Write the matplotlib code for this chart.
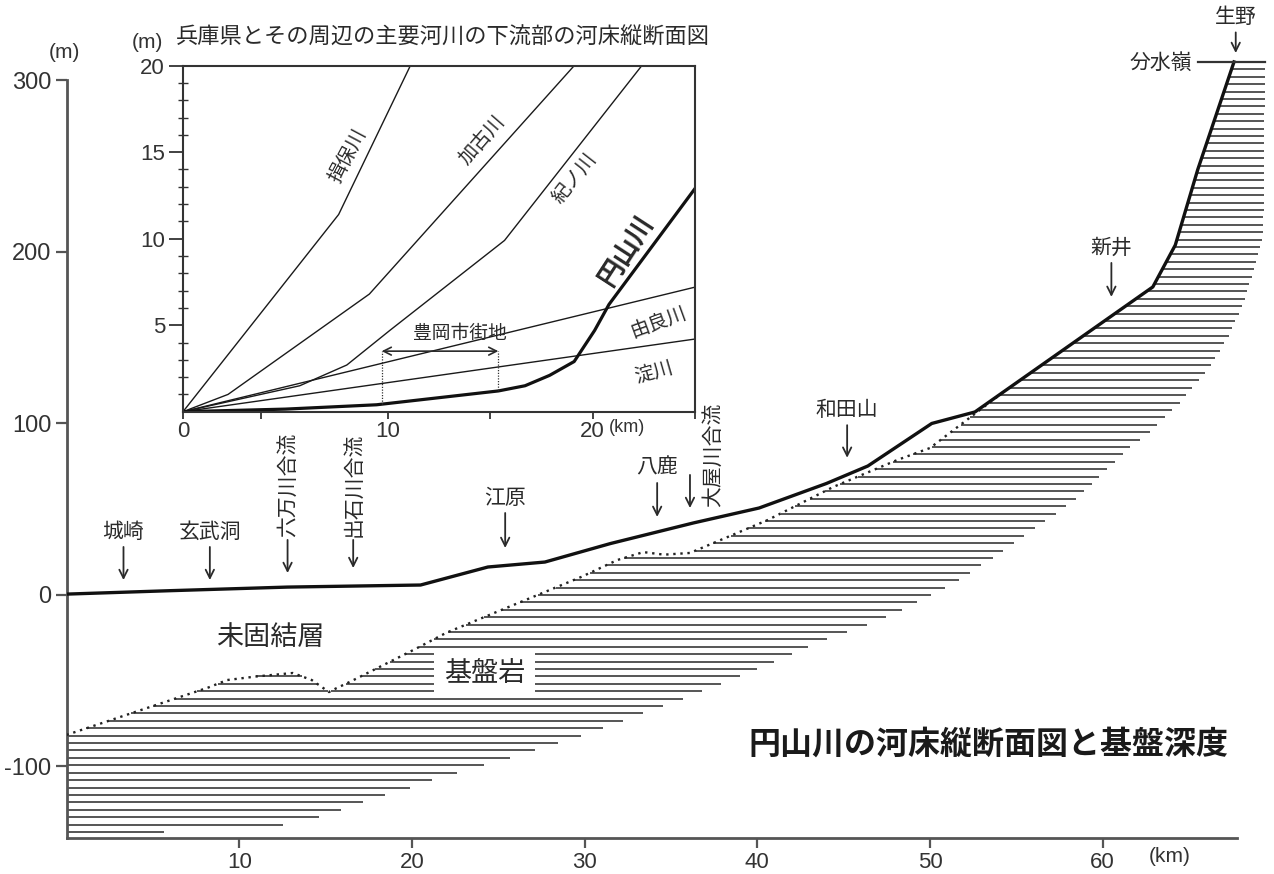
import numpy as np
import matplotlib
matplotlib.use("Agg")
import matplotlib.pyplot as plt
from matplotlib.collections import LineCollection

plt.rcParams['font.family'] = ['Liberation Sans', 'Noto Sans CJK JP', 'DejaVu Sans']
plt.rcParams['axes.unicode_minus'] = False
JP = ['Noto Sans CJK JP', 'DejaVu Sans']
INK = '#2a2a2a'

# ---------------- Maruyama River: bed profile (km from mouth, elevation m) ----------------
bed_km = [0, 6, 12.8, 20.5, 24.4, 27.7, 31.5, 36.3, 40.1, 44.0, 46.4, 50.1, 52.6, 62.9, 64.2, 65.5, 67.6]
bed_m = [0.5, 2.5, 4.6, 5.8, 16.3, 19.2, 30, 42, 50.7, 65, 75.2, 100, 106.7, 179.6, 204, 248, 310.8]

# top of bedrock (basement) below the unconsolidated layer
base_km = [0, 8.2, 9.3, 11.0, 13.1, 14.2, 15.2, 15.6, 16.4, 20.1, 22.0, 29.8, 31.9, 33.4,
           34.6, 36.1, 40.6, 44.4, 48.1, 50.0, 54.4]
base_m = [-81.6, -54, -49.6, -47.5, -45.5, -49.6, -56.6, -54.5, -50.7, -32, -22, 10.5, 20.4, 25,
          23.5, 24.5, 43.7, 63, 78.7, 85.7, 119.5]

# outer limit of the bedrock section (elevation m -> km)
edge_m = [-138.2, -133.5, -129.4, -124.8, -120.1, -115.5, -111.4, -106.7, -93.3, -78.7, -61.2,
          -45.5, -37.3, -33.2, -28.0, -24.5, -19.2, -14.6, -4.7, 8.7, 22.7, 55.4, 86.3, 94.5,
          113.7, 133, 152.8, 172, 191, 211, 310.8]
edge_km = [5.6, 13.1, 14.7, 16.0, 17.4, 18.8, 20.2, 21.5, 26.3, 30.8, 35.5, 39.5, 41.3, 42.4,
           43.3, 44.5, 45.8, 47.1, 49.2, 51.7, 53.8, 58.4, 61.6, 62.7, 64.6, 66.2, 67.4, 68.2,
           68.8, 69.3, 69.4]

# places along the river: name, km, arrow start (m), arrow end (m)
place_names = ['城崎', '玄武洞', '江原', '八鹿', '和田山', '新井', '生野']
place_km = [3.3, 8.3, 25.4, 34.2, 45.2, 60.5, 67.7]
place_top = [28, 28, 47.8, 65.3, 99, 193.6, 328]
place_bot = [8.7, 8.7, 27.4, 45.5, 80, 173.8, 316]

# tributary confluences: name, arrow km, arrow start, arrow end, label km
conf_names = ['六万川合流', '出石川合流', '大屋川合流']
conf_km = [12.8, 16.6, 36.1]
conf_top = [32.1, 32.1, 70]
conf_bot = [12.8, 15.7, 50.7]
conf_label_km = [12.8, 16.6, 37.4]
conf_label_m = [33.6, 33.6, 51.3]

main_xticks = [10, 20, 30, 40, 50, 60]
main_yticks = [-100, 0, 100, 200, 300]

# ---------------- lower reaches of major rivers (inset) ----------------
ibo_km, ibo_m = [0, 7.6, 11.1], [0, 11.4, 20]
kako_km, kako_m = [0, 2.2, 9.1, 19.1], [0, 1.0, 6.8, 20]
kino_km, kino_m = [0, 5.7, 8.0, 10.1, 15.7, 22.4], [0, 1.5, 2.7, 4.7, 9.9, 20]
yura_km, yura_m = [0, 25], [0, 7.2]
yodo_km, yodo_m = [0, 25], [0, 4.2]
maru_km = [0, 5, 9.45, 15.4, 16.7, 17.9, 19.1, 20.1, 20.8, 25]
maru_m = [0, 0.15, 0.4, 1.2, 1.5, 2.1, 2.9, 4.7, 6.2, 12.9]
toyooka_km = [9.7, 15.4]
toyooka_m = 3.5
toyooka_bed = [0.42, 1.25]

W, H = 1274, 874
fig = plt.figure(figsize=(W / 100, H / 100), dpi=100)


def fx(px):
    return px / W


def fy(py):
    return 1 - py / H


# ================= main profile =================
ax = fig.add_axes([fx(66.5), fy(838), fx(1272) - fx(66.5), fy(0) - fy(838)])
ax.set_xlim(0, 69.8)
ax.set_ylim(-141.7, 346.9)
for s in ['top', 'right']:
    ax.spines[s].set_visible(False)
for s in ['left', 'bottom']:
    ax.spines[s].set_color('#555555')
    ax.spines[s].set_linewidth(2.0)
ax.spines['left'].set_bounds(-141.7, 300)
ax.spines['bottom'].set_bounds(0, 67.75)
ax.set_xticks(main_xticks)
ax.set_yticks(main_yticks)
ax.tick_params(axis='both', direction='out', color='#555555', width=1.6, labelcolor='#333333')
ax.tick_params(axis='y', length=8, pad=3, labelsize=17)
ax.tick_params(axis='x', length=7, pad=3, labelsize=16)

# horizontal line shading of the bedrock
cut_from = base_km[-1]
up_km = base_km + [k for k in bed_km if k > cut_from] + [69.8]
up_m = base_m + [m for k, m in zip(bed_km, bed_m) if k > cut_from] + [bed_m[-1]]
xs = np.linspace(0, 69.8, 8000)
upper = np.interp(xs, up_km, up_m)
levels = bed_m[-1] - 4.317 * np.arange(1, 105)
segs = []
for lv in levels:
    right = np.interp(lv, edge_m, edge_km)
    mask = (upper > lv) & (xs <= right)
    d = np.diff(np.concatenate([[0], mask.astype(int), [0]]))
    starts = np.where(d == 1)[0]
    ends = np.where(d == -1)[0] - 1
    for s, e in zip(starts, ends):
        if xs[e] - xs[s] > 0.05:
            segs.append([(xs[s], lv), (xs[e], lv)])
ax.add_collection(LineCollection(segs, colors='#555555', linewidths=1.4,
                                 capstyle='butt', clip_on=False, zorder=1))

# basement surface and river bed
ax.plot(base_km, base_m, color='#222222', lw=1.7, ls=(0, (1, 2.0)), zorder=3)
ax.plot(bed_km, bed_m, color='#111111', lw=2.4, solid_joinstyle='round', zorder=4)
ax.plot([65.5, 69.4], [bed_m[-1], bed_m[-1]], color='#333333', lw=1.6, zorder=4, clip_on=False)
ax.text(65.2, 310.2, '分水嶺', ha='right', va='center', fontsize=15, family=JP, color=INK)

arrow_kw = dict(arrowstyle='->', lw=1.3, color=INK, shrinkA=0, shrinkB=0, mutation_scale=15)
for name, k, t, b in zip(place_names, place_km, place_top, place_bot):
    ax.annotate('', xy=(k, b), xytext=(k, t), arrowprops=arrow_kw)
    ax.text(k, t + 2.5, name, ha='center', va='bottom', fontsize=15, family=JP, color=INK)

for name, k, t, b, lk, lm in zip(conf_names, conf_km, conf_top, conf_bot, conf_label_km, conf_label_m):
    ax.annotate('', xy=(k, b), xytext=(k, t), arrowprops=arrow_kw)
    ax.text(lk, lm, name, ha='center', va='bottom', rotation=90, fontsize=15,
            family=JP, color=INK)

ax.text(11.8, -25, '未固結層', ha='center', va='center', fontsize=19.5, family=JP, color=INK)
ax.text(24.2, -45.5, '基盤岩', ha='center', va='center', fontsize=19.5, family=JP, color=INK,
        bbox=dict(boxstyle='square,pad=0.35', fc='white', ec='none'), zorder=5)
ax.text(53.4, -87.5, '円山川の河床縦断面図と基盤深度', ha='center', va='center',
        fontsize=23, weight='bold', family=JP, color='#1a1a1a')

fig.text(fx(64), fy(53), '(m)', ha='center', va='center', fontsize=15, color='#333333')
fig.text(fx(1170), fy(856), '(km)', ha='center', va='center', fontsize=15, color='#333333')

# ================= inset: lower reaches of major rivers =================
ins = fig.add_axes([fx(183), fy(411.7), fx(695) - fx(183), fy(65.7) - fy(411.7)])
ins.set_xlim(0, 25)
ins.set_ylim(0, 20)
for s in ins.spines.values():
    s.set_color('#333333')
    s.set_linewidth(1.5)
ins.set_xticks([0, 3.8, 10, 15, 20, 25])
ins.set_xticklabels(['0', '', '10', '', '20', ''])
ins.set_yticks([5, 10, 15, 20])
ins.set_yticks(np.arange(1, 20), minor=True)
ins.tick_params(axis='x', direction='out', length=5, width=1.3, pad=2, labelsize=16,
                color='#333333', labelcolor='#333333')
ins.tick_params(axis='y', which='major', direction='out', length=10, width=1.3, pad=3,
                labelsize=16, color='#333333', labelcolor='#333333')
ins.tick_params(axis='y', which='minor', direction='inout', length=7, width=1.0, color='#333333')

thin = dict(color='#1a1a1a', lw=1.0)
ins.plot(ibo_km, ibo_m, **thin)
ins.plot(kako_km, kako_m, **thin)
ins.plot(kino_km, kino_m, **thin)
ins.plot(yura_km, yura_m, **thin)
ins.plot(yodo_km, yodo_m, **thin)
ins.plot(maru_km, maru_m, color='#111111', lw=2.3)

for k, b in zip(toyooka_km, toyooka_bed):
    ins.plot([k, k], [b, toyooka_m], color='#333333', lw=0.9, ls=(0, (1, 1.2)))
ins.annotate('', xy=(toyooka_km[0], toyooka_m), xytext=(toyooka_km[1], toyooka_m),
             arrowprops=dict(arrowstyle='<->', lw=1.2, color=INK, shrinkA=0, shrinkB=0,
                             mutation_scale=14))
ins.text(13.5, 4.5, '豊岡市街地', ha='center', va='center', fontsize=13.5, family=JP, color=INK)

lab = dict(ha='center', va='center', rotation_mode='anchor', family=JP, color=INK)
ins.text(8.0, 14.8, '揖保川', rotation=62, fontsize=14, **lab)
ins.text(14.6, 15.7, '加古川', rotation=49, fontsize=14, **lab)
ins.text(19.1, 13.5, '紀ノ川', rotation=52, fontsize=14, **lab)
ins.text(21.7, 9.3, '円山川', rotation=57, fontsize=19, weight='bold', **lab)
ins.text(23.2, 5.2, '由良川', rotation=20, fontsize=14, **lab)
ins.text(23.0, 2.3, '淀川', rotation=16, fontsize=14, **lab)

fig.text(fx(627), fy(428), '(km)', ha='center', va='center', fontsize=13, color='#333333')
fig.text(fx(147), fy(42), '(m)', ha='center', va='center', fontsize=15, color='#333333')
fig.text(fx(176), fy(37), '兵庫県とその周辺の主要河川の下流部の河床縦断面図', ha='left',
         va='center', fontsize=16, family=JP, color=INK)

fig.savefig('out.png', dpi=100, facecolor='white')
